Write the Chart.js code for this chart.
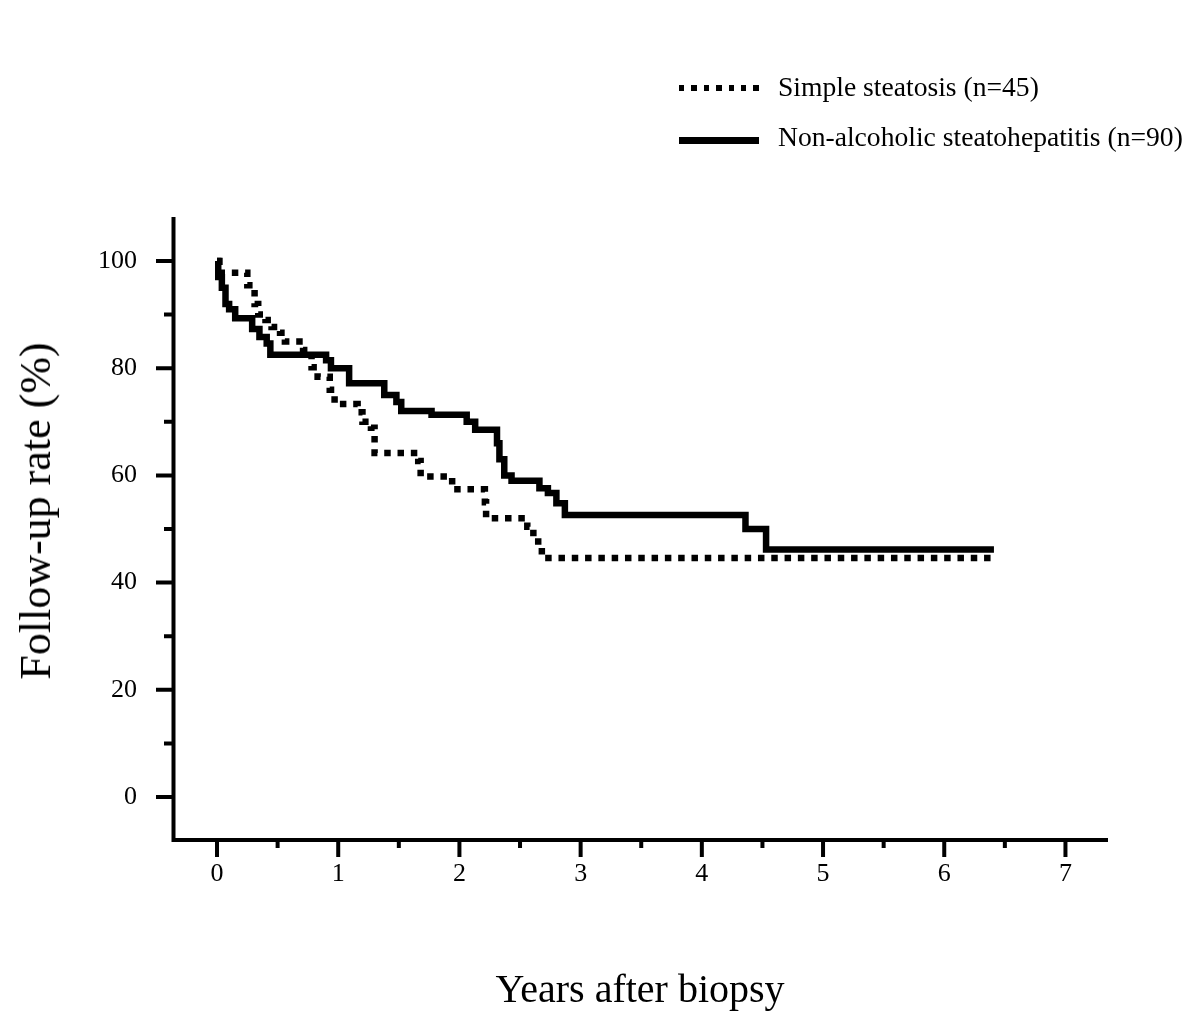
<!DOCTYPE html>
<html>
<head>
<meta charset="utf-8">
<script src="https://cdn.jsdelivr.net/npm/chart.js@4/dist/chart.umd.min.js"></script>
<style>
  html, body { margin: 0; padding: 0; background: #fff; }
  #wrap { position: relative; width: 1200px; height: 1021px; overflow: hidden; font-family: "Liberation Serif", "Times New Roman", serif; color: #000; }
  canvas { position: absolute; left: 0; top: 0; }
  .lg-text { position: absolute; left: 778px; font-size: 27.6px; line-height: 30px; white-space: nowrap; }
  .lg-dot { position: absolute; left: 679px; width: 80px; height: 6px;
            background: repeating-linear-gradient(to right, #000 0 5.5px, transparent 5.5px 12.4px); }
  .lg-solid { position: absolute; left: 679px; width: 80px; height: 6.5px; background: #000; }
  #xtitle { position: absolute; left: 0; width: 1280px; top: 965px; text-align: center; font-size: 40px; line-height: 48px; white-space: nowrap; }
  #ytitle { position: absolute; left: 36px; top: 511px; transform: translate(-50%, -50%) rotate(-90deg); font-size: 44px; line-height: 52px; white-space: nowrap; }
</style>
</head>
<body>
<div id="wrap">
  <canvas id="c" width="1200" height="1021"></canvas>
  <div class="lg-dot" style="top:85px"></div>
  <div class="lg-text" style="top:72px">Simple steatosis (n=45)</div>
  <div class="lg-solid" style="top:137px"></div>
  <div class="lg-text" style="top:122px">Non-alcoholic steatohepatitis (n=90)</div>
  <div id="xtitle">Years after biopsy</div>
  <div id="ytitle">Follow-up rate (%)</div>
</div>
<script>
// ---- Data ----
const seriesNames = ["Simple steatosis (n=45)", "Non-alcoholic steatohepatitis (n=90)"];

const ssYears = [0, 0.02, 0.25, 0.31, 0.34, 0.40, 0.45, 0.52, 0.56, 0.71, 0.78, 0.83, 0.93, 0.97, 1.16, 1.20, 1.27, 1.30, 1.66, 1.68, 1.94, 2.21, 2.22, 2.56, 2.61, 2.65, 2.68, 6.41];
const ssRate  = [100, 97.8, 95.5, 92, 90, 89, 87.7, 86.6, 85, 83.4, 80.2, 78.4, 76, 73.3, 71.8, 70, 68.9, 64.2, 62.7, 59.8, 57.4, 55, 52, 50.4, 48.5, 46.7, 44.6, 44.6];

const nashYears = [0, 0.01, 0.04, 0.07, 0.10, 0.15, 0.29, 0.35, 0.41, 0.44, 0.90, 0.94, 1.09, 1.38, 1.48, 1.52, 1.77, 2.06, 2.13, 2.31, 2.33, 2.37, 2.43, 2.66, 2.73, 2.80, 2.87, 4.36, 4.53, 6.41];
const nashRate  = [100, 97, 95, 92, 91, 89.3, 87.3, 85.8, 84.6, 82.5, 81.5, 80, 77.2, 75, 73.7, 72, 71.3, 70, 68.5, 66, 63, 60, 59, 57.6, 56.7, 54.8, 52.6, 50, 46.2, 46.2];

const xTickValues = [0, 1, 2, 3, 4, 5, 6, 7];
const xMinorTicks = [0.5, 1.5, 2.5, 3.5, 4.5, 5.5, 6.5];
const yTickValues = [0, 20, 40, 60, 80, 100];
const yMinorTicks = [10, 30, 50, 70, 90];

const toPoints = (xs, ys) => xs.map((x, i) => ({ x: x, y: ys[i] }));

const axisPlugin = {
  id: 'customAxes',
  afterDatasetsDraw(chart) {
    const { ctx, chartArea: a, scales: { x, y } } = chart;
    ctx.save();
    ctx.strokeStyle = '#000';
    ctx.lineWidth = 4;
    ctx.lineCap = 'butt';
    ctx.beginPath();
    ctx.moveTo(a.left, a.top); ctx.lineTo(a.left, a.bottom + 2);
    ctx.moveTo(a.left - 2, a.bottom); ctx.lineTo(a.right, a.bottom);
    yTickValues.forEach(v => { const p = y.getPixelForValue(v); ctx.moveTo(a.left - 17.5, p); ctx.lineTo(a.left, p); });
    yMinorTicks.forEach(v => { const p = y.getPixelForValue(v); ctx.moveTo(a.left - 9.5, p); ctx.lineTo(a.left, p); });
    xTickValues.forEach(v => { const p = x.getPixelForValue(v); ctx.moveTo(p, a.bottom); ctx.lineTo(p, a.bottom + 17); });
    xMinorTicks.forEach(v => { const p = x.getPixelForValue(v); ctx.moveTo(p, a.bottom); ctx.lineTo(p, a.bottom + 8); });
    ctx.stroke();
    ctx.restore();
  }
};

const tickFont = { family: 'Liberation Serif', size: 26 };

new Chart(document.getElementById('c'), {
  type: 'line',
  data: {
    datasets: [
      {
        label: seriesNames[0],
        data: toPoints(ssYears, ssRate),
        stepped: 'before',
        borderColor: '#000',
        borderWidth: 6.5,
        borderDash: [6.5, 6.8],
        borderCapStyle: 'butt',
        pointRadius: 0,
        fill: false
      },
      {
        label: seriesNames[1],
        data: toPoints(nashYears, nashRate),
        stepped: 'before',
        borderColor: '#000',
        borderWidth: 6.5,
        borderCapStyle: 'butt',
        pointRadius: 0,
        fill: false
      }
    ]
  },
  options: {
    responsive: false,
    animation: false,
    devicePixelRatio: 1,
    layout: { padding: { left: 0, right: 92, top: 217, bottom: 0 } },
    plugins: { legend: { display: false }, tooltip: { enabled: false } },
    scales: {
      x: {
        type: 'linear',
        min: -0.359,
        max: 7.351,
        grid: { display: false, drawTicks: false },
        border: { display: false },
        ticks: { font: tickFont, color: '#000', padding: 19, maxRotation: 0, autoSkip: false },
        afterBuildTicks: s => { s.ticks = xTickValues.map(v => ({ value: v })); },
        afterFit: s => { s.height = 181; }
      },
      y: {
        type: 'linear',
        min: -8.02,
        max: 108.21,
        grid: { display: false, drawTicks: false },
        border: { display: false },
        ticks: { font: tickFont, color: '#000', padding: 36.5, autoSkip: false },
        afterBuildTicks: s => { s.ticks = yTickValues.map(v => ({ value: v })); },
        afterFit: s => { s.width = 173.5; }
      }
    }
  },
  plugins: [axisPlugin]
});
</script>
</body>
</html>
